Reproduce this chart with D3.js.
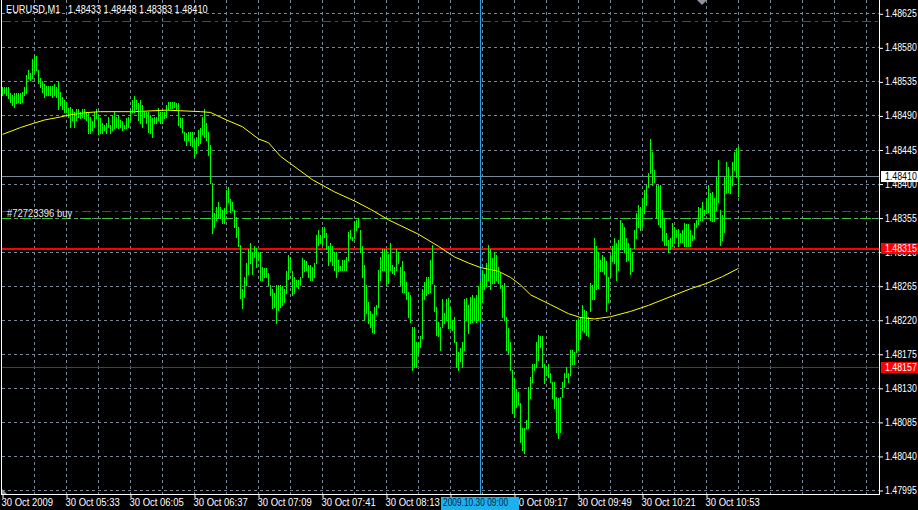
<!DOCTYPE html>
<html><head><meta charset="utf-8">
<script src="https://cdn.jsdelivr.net/npm/d3@7"></script>
<style>html,body{margin:0;padding:0;background:#000;overflow:hidden}svg{display:block}
text{font-family:'Liberation Sans',Arial,sans-serif;font-size:11px}</style>
</head><body>
<svg id="c" width="918" height="510"></svg>
<script>
// ---------- data ----------
const symbolTitle = "EURUSD,M1";
const lastOHLC = [1.48433, 1.48448, 1.48383, 1.48410];
const timeTickBars = [0, 32, 64, 96, 128, 160, 192, 224, 256, 288, 320, 352];
const timeTickLabels = ["30 Oct 2009", "30 Oct 05:33", "30 Oct 06:05", "30 Oct 06:37", "30 Oct 07:09", "30 Oct 07:41",
  "30 Oct 08:13", "30 Oct 08:45", "30 Oct 09:17", "30 Oct 09:49", "30 Oct 10:21", "30 Oct 10:53"];
const priceTicks = [1.47995, 1.48040, 1.48085, 1.48130, 1.48175, 1.48220, 1.48265, 1.48310, 1.48355,
  1.48400, 1.48445, 1.48490, 1.48535, 1.48580, 1.48625];

// one-minute bars (high / low)
const highs = [
1.48528,1.48527,1.48528,1.48527,1.48520,1.48517,1.48520,1.48520,1.48520,1.48520,
1.48521,1.48527,1.48544,1.48550,1.48546,1.48564,1.48570,1.48568,1.48550,1.48540,
1.48535,1.48531,1.48529,1.48529,1.48529,1.48529,1.48531,1.48528,1.48535,1.48521,
1.48515,1.48511,1.48508,1.48500,1.48501,1.48498,1.48494,1.48498,1.48498,1.48495,
1.48498,1.48498,1.48495,1.48494,1.48488,1.48483,1.48495,1.48498,1.48491,1.48487,
1.48480,1.48478,1.48480,1.48488,1.48478,1.48491,1.48494,1.48488,1.48491,1.48484,
1.48483,1.48478,1.48487,1.48488,1.48498,1.48511,1.48516,1.48511,1.48507,1.48511,
1.48504,1.48494,1.48494,1.48494,1.48491,1.48487,1.48488,1.48488,1.48500,1.48494,
1.48495,1.48494,1.48504,1.48508,1.48508,1.48508,1.48508,1.48507,1.48507,1.48487,
1.48487,1.48468,1.48467,1.48468,1.48468,1.48468,1.48458,1.48462,1.48471,1.48474,
1.48488,1.48498,1.48480,1.48468,1.48451,1.48401,1.48361,1.48369,1.48375,1.48369,
1.48365,1.48368,1.48392,1.48395,1.48379,1.48376,1.48365,1.48356,1.48343,1.48319,
1.48260,1.48277,1.48295,1.48313,1.48322,1.48309,1.48317,1.48315,1.48310,1.48309,
1.48290,1.48289,1.48289,1.48282,1.48266,1.48260,1.48256,1.48266,1.48266,1.48266,
1.48264,1.48260,1.48284,1.48306,1.48303,1.48284,1.48277,1.48273,1.48273,1.48276,
1.48302,1.48299,1.48297,1.48293,1.48293,1.48290,1.48295,1.48332,1.48339,1.48332,
1.48342,1.48343,1.48335,1.48317,1.48322,1.48317,1.48310,1.48309,1.48299,1.48291,
1.48299,1.48299,1.48303,1.48336,1.48339,1.48330,1.48350,1.48352,1.48354,1.48339,
1.48317,1.48293,1.48266,1.48243,1.48231,1.48227,1.48237,1.48240,1.48286,1.48303,
1.48313,1.48313,1.48313,1.48307,1.48322,1.48293,1.48290,1.48313,1.48309,1.48290,
1.48297,1.48284,1.48270,1.48257,1.48253,1.48211,1.48211,1.48191,1.48190,1.48198,
1.48260,1.48270,1.48276,1.48276,1.48299,1.48319,1.48266,1.48237,1.48217,1.48211,
1.48247,1.48229,1.48247,1.48249,1.48237,1.48220,1.48224,1.48190,1.48178,1.48183,
1.48190,1.48247,1.48249,1.48240,1.48250,1.48253,1.48249,1.48253,1.48264,1.48270,
1.48286,1.48280,1.48295,1.48319,1.48313,1.48302,1.48309,1.48306,1.48290,1.48282,
1.48266,1.48269,1.48224,1.48209,1.48191,1.48154,1.48143,1.48128,1.48124,1.48110,
1.48077,1.48077,1.48088,1.48131,1.48145,1.48161,1.48161,1.48190,1.48200,1.48198,
1.48198,1.48161,1.48158,1.48161,1.48150,1.48138,1.48138,1.48118,1.48117,1.48118,
1.48138,1.48150,1.48157,1.48150,1.48180,1.48180,1.48178,1.48220,1.48220,1.48224,
1.48240,1.48233,1.48231,1.48224,1.48269,1.48266,1.48328,1.48317,1.48309,1.48299,
1.48306,1.48303,1.48297,1.48277,1.48306,1.48317,1.48328,1.48322,1.48326,1.48352,
1.48348,1.48342,1.48328,1.48322,1.48315,1.48309,1.48339,1.48361,1.48372,1.48369,
1.48381,1.48392,1.48398,1.48414,1.48459,1.48442,1.48418,1.48398,1.48398,1.48398,
1.48365,1.48355,1.48335,1.48326,1.48328,1.48348,1.48343,1.48339,1.48340,1.48335,
1.48339,1.48348,1.48346,1.48346,1.48339,1.48332,1.48348,1.48352,1.48369,1.48368,
1.48375,1.48365,1.48381,1.48398,1.48388,1.48389,1.48381,1.48409,1.48431,1.48365,
1.48359,1.48408,1.48428,1.48422,1.48408,1.48428,1.48442,1.48447,1.48448];
const lows = [
1.48517,1.48520,1.48517,1.48513,1.48508,1.48504,1.48501,1.48507,1.48508,1.48507,
1.48508,1.48517,1.48520,1.48540,1.48537,1.48540,1.48548,1.48550,1.48533,1.48527,
1.48521,1.48515,1.48517,1.48517,1.48517,1.48515,1.48517,1.48515,1.48498,1.48504,
1.48498,1.48494,1.48495,1.48488,1.48475,1.48484,1.48475,1.48484,1.48488,1.48487,
1.48488,1.48487,1.48484,1.48467,1.48467,1.48471,1.48475,1.48487,1.48465,1.48467,
1.48467,1.48471,1.48467,1.48475,1.48467,1.48471,1.48474,1.48475,1.48474,1.48475,
1.48471,1.48474,1.48474,1.48475,1.48484,1.48494,1.48495,1.48498,1.48484,1.48480,
1.48475,1.48488,1.48480,1.48468,1.48467,1.48462,1.48480,1.48480,1.48484,1.48480,
1.48480,1.48487,1.48488,1.48498,1.48500,1.48500,1.48501,1.48498,1.48478,1.48475,
1.48468,1.48458,1.48451,1.48458,1.48451,1.48449,1.48436,1.48441,1.48451,1.48454,
1.48465,1.48461,1.48458,1.48438,1.48401,1.48335,1.48343,1.48352,1.48356,1.48355,
1.48348,1.48348,1.48361,1.48375,1.48363,1.48365,1.48343,1.48330,1.48317,1.48249,
1.48236,1.48250,1.48266,1.48280,1.48295,1.48280,1.48303,1.48290,1.48299,1.48273,
1.48273,1.48277,1.48277,1.48266,1.48253,1.48236,1.48237,1.48216,1.48233,1.48237,
1.48240,1.48244,1.48256,1.48274,1.48286,1.48253,1.48256,1.48264,1.48262,1.48266,
1.48276,1.48284,1.48286,1.48277,1.48273,1.48273,1.48277,1.48295,1.48319,1.48322,
1.48319,1.48330,1.48313,1.48293,1.48297,1.48293,1.48286,1.48277,1.48284,1.48286,
1.48286,1.48286,1.48286,1.48299,1.48328,1.48326,1.48328,1.48339,1.48343,1.48309,
1.48277,1.48220,1.48229,1.48216,1.48211,1.48204,1.48203,1.48227,1.48237,1.48273,
1.48286,1.48286,1.48266,1.48269,1.48286,1.48282,1.48280,1.48286,1.48295,1.48266,
1.48257,1.48257,1.48247,1.48224,1.48217,1.48154,1.48158,1.48157,1.48176,1.48184,
1.48196,1.48247,1.48253,1.48256,1.48257,1.48269,1.48231,1.48200,1.48198,1.48180,
1.48211,1.48216,1.48220,1.48209,1.48209,1.48207,1.48190,1.48157,1.48154,1.48165,
1.48157,1.48180,1.48220,1.48203,1.48216,1.48217,1.48220,1.48217,1.48220,1.48220,
1.48243,1.48260,1.48264,1.48273,1.48260,1.48269,1.48269,1.48273,1.48269,1.48262,
1.48224,1.48220,1.48180,1.48176,1.48154,1.48097,1.48092,1.48105,1.48108,1.48058,
1.48048,1.48044,1.48077,1.48077,1.48117,1.48138,1.48154,1.48158,1.48167,1.48184,
1.48158,1.48137,1.48147,1.48145,1.48138,1.48117,1.48104,1.48071,1.48064,1.48071,
1.48118,1.48131,1.48145,1.48138,1.48147,1.48161,1.48161,1.48178,1.48180,1.48194,
1.48207,1.48204,1.48200,1.48198,1.48231,1.48247,1.48247,1.48260,1.48262,1.48284,
1.48284,1.48280,1.48231,1.48244,1.48276,1.48297,1.48295,1.48273,1.48286,1.48313,
1.48313,1.48309,1.48297,1.48299,1.48280,1.48284,1.48315,1.48328,1.48343,1.48339,
1.48343,1.48361,1.48372,1.48395,1.48414,1.48398,1.48402,1.48356,1.48346,1.48342,
1.48326,1.48319,1.48319,1.48310,1.48313,1.48317,1.48322,1.48330,1.48317,1.48323,
1.48323,1.48317,1.48317,1.48317,1.48317,1.48326,1.48328,1.48342,1.48346,1.48352,
1.48352,1.48359,1.48361,1.48363,1.48352,1.48350,1.48350,1.48365,1.48376,1.48319,
1.48326,1.48336,1.48388,1.48389,1.48388,1.48398,1.48418,1.48408,1.48383];

// moving average (yellow), read at these bar numbers
const maBars = [0,9,16,21,29,34,43,49,66,82,99,104,112,120,128,133,139,155,166,176,184,193,208,218,226,233,
  239,248,254,259,264,274,283,289,296,304,314,323,344,352,360,368];
const maValues = [1.48465,1.48474,1.48480,1.48484,1.48488,1.48491,1.48494,1.48495,1.48495,1.48497,1.48495,
  1.48494,1.48484,1.48475,1.48459,1.48454,1.48436,1.48405,1.48389,1.48377,1.48366,1.48352,1.48333,1.48317,
  1.48303,1.48295,1.48289,1.48284,1.48276,1.48266,1.48253,1.48240,1.48228,1.48223,1.48221,1.48224,1.48231,
  1.48239,1.48261,1.48268,1.48277,1.48288];

const bidPrice = 1.48410;
const alertLevel1 = 1.48315;
const alertLevel2 = 1.48157;
const takeProfit = 1.48615;
const stopLevel = 1.48364;
const orderOpen = 1.48354;
const orderLabel = "#72723396 buy";
const vLineBar = 239;
const vLineLabel = "2009.10.30 09:00";

// ---------- drawing ----------
const svg = d3.select("#c");
const plotR = 879, plotB = 494;
const x = d3.scaleLinear().domain([-1, 438.5]).range([0, plotR]);
const y = d3.scaleLinear().domain([1.47995, 1.48625]).range([490, 13.3]);
const py = v => Math.round(y(v)) + 0.5;

// narrow the text (the original uses a narrow bitmap font)
function squeeze(sel, f) {
  sel.each(function () {
    const w = this.getComputedTextLength();
    this.setAttribute("textLength", (w * f).toFixed(1));
    this.setAttribute("lengthAdjust", "spacingAndGlyphs");
  });
}

svg.append("rect").attr("width", 918).attr("height", 510).attr("fill", "#000");

// grid
const grid = svg.append("g").attr("stroke", "#7a8596").attr("stroke-dasharray", "3,3").attr("shape-rendering", "crispEdges");
grid.selectAll("line.h").data(priceTicks).join("line").attr("class", "h")
  .attr("x1", 2).attr("x2", plotR).attr("y1", py).attr("y2", py);
grid.selectAll("line.v").data(d3.range(16, 439, 16)).join("line").attr("class", "v")
  .attr("x1", d => x(d) + 0.5).attr("x2", d => x(d) + 0.5).attr("y1", 0).attr("y2", plotB);

// horizontal levels
function hline(p, color, w, dash) {
  const l = svg.append("line").attr("x1", 2).attr("x2", plotR).attr("y1", py(p)).attr("y2", py(p))
    .attr("stroke", color).attr("stroke-width", w).attr("shape-rendering", "crispEdges");
  if (dash) l.attr("stroke-dasharray", dash);
}
hline(takeProfit, "#ff0000", 1, "9,4,3,4");
hline(stopLevel, "#ff0000", 1, "9,4,3,4");
hline(orderOpen, "#32cd32", 1, "9,4,3,4");
hline(bidPrice, "#778899", 1);
hline(alertLevel1, "#ff0000", 2);
hline(alertLevel2, "#e00000", 1);

// vertical line
svg.append("line").attr("x1", x(vLineBar) + 0.5).attr("x2", x(vLineBar) + 0.5).attr("y1", 0).attr("y2", plotB)
  .attr("stroke", "#1ca6ee").attr("shape-rendering", "crispEdges");

// bars
svg.append("g").attr("shape-rendering", "crispEdges").selectAll("rect").data(highs).join("rect")
  .attr("x", (d, i) => x(i)).attr("width", 1)
  .attr("y", d => Math.round(y(d)))
  .attr("height", (d, i) => Math.max(1, Math.round(y(lows[i])) - Math.round(y(d)) + 1))
  .attr("fill", "#00ff00");

// moving average
svg.append("path").datum(maBars.map((b, i) => [b, maValues[i]]))
  .attr("d", d3.line().x(d => x(d[0]) + 0.5).y(d => y(d[1])))
  .attr("fill", "none").attr("stroke", "#ffff00").attr("stroke-width", 1);

// order label
squeeze(svg.append("text").attr("x", 7).attr("y", 217).attr("fill", "#e6e6e6").text(orderLabel), 0.86);

// header
squeeze(svg.append("text").attr("x", 6).attr("y", 12.5).attr("fill", "#fff").text(symbolTitle), 0.84);
squeeze(svg.append("text").attr("x", 68).attr("y", 12.5).attr("fill", "#fff")
  .text(lastOHLC.map(d3.format(".5f")).join("  ")), 0.83);

// markers
svg.append("path").attr("d", "M697,0L707,0L702,5Z").attr("fill", "#8c939e");
svg.append("path").attr("d", "M2,489L2,494L7,494Z").attr("fill", "#8c939e");

// frame
const fr = svg.append("g").attr("stroke", "#fff").attr("shape-rendering", "crispEdges");
fr.append("line").attr("x1", 1.5).attr("x2", 1.5).attr("y1", 0).attr("y2", plotB);
fr.append("line").attr("x1", plotR + 0.5).attr("x2", plotR + 0.5).attr("y1", 0).attr("y2", plotB + 1);
fr.append("line").attr("x1", 1).attr("x2", plotR + 1).attr("y1", plotB + 0.5).attr("y2", plotB + 0.5);

// axes
const ay = svg.append("g").attr("transform", `translate(${plotR},0)`)
  .call(d3.axisRight(y).tickValues(priceTicks).tickSize(4).tickSizeOuter(0).tickPadding(2).tickFormat(d3.format(".5f")));
ay.select(".domain").remove();
ay.selectAll("line").attr("stroke", "#fff").attr("transform", "translate(0,0.5)");
ay.selectAll("text").attr("fill", "#fff").style("font-size", "11px");
squeeze(ay.selectAll("text"), 0.8);

const ax = svg.append("g").attr("transform", `translate(0,${plotB})`)
  .call(d3.axisBottom(x).tickValues(timeTickBars).tickSize(4).tickSizeOuter(0).tickPadding(0)
    .tickFormat((d, i) => timeTickLabels[i]));
ax.select(".domain").remove();
ax.selectAll("line").attr("stroke", "#fff").attr("transform", "translate(0.5,0)");
ax.selectAll("text").attr("fill", "#fff").attr("text-anchor", "start").attr("x", -1).style("font-size", "11px");
squeeze(ax.selectAll("text"), 0.86);

// price label boxes
function priceBox(p, bg, fg) {
  const g = svg.append("g");
  g.append("rect").attr("x", 881).attr("y", Math.round(y(p)) - 5).attr("width", 37).attr("height", 11).attr("fill", bg);
  squeeze(g.append("text").attr("x", 885).attr("y", y(p)).attr("dy", "0.36em").attr("fill", fg).text(d3.format(".5f")(p)), 0.8);
}
priceBox(bidPrice, "#fff", "#000");
priceBox(alertLevel1, "#ff0000", "#fff");
priceBox(alertLevel2, "#ff0000", "#fff");

// time label box
svg.append("rect").attr("x", 441).attr("y", 497).attr("width", 78).attr("height", 13).attr("fill", "#1cb0ec");
squeeze(svg.append("text").attr("x", 443).attr("y", 506).attr("fill", "#0a1f44").text(vLineLabel), 0.76);
</script>
</body></html>
